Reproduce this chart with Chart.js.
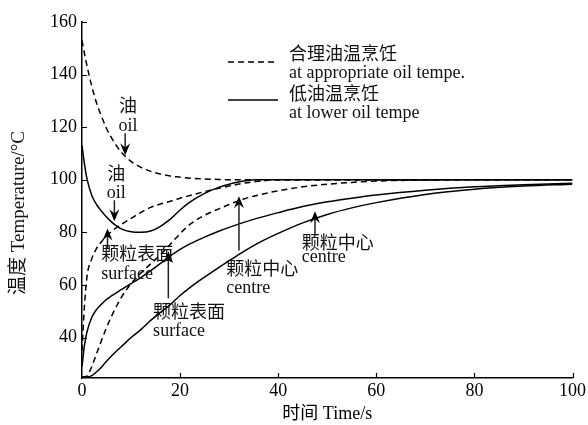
<!DOCTYPE html>
<html>
<head>
<meta charset="utf-8">
<script src="https://cdn.jsdelivr.net/npm/chart.js@4.4.0/dist/chart.umd.min.js"></script>
<style>
    html, body { margin: 0; padding: 0; background: #fff; }
    #wrap { width: 588px; height: 425px; }
</style>
</head>
<body>
<div id="wrap"><canvas id="chart" width="588" height="425"></canvas></div>
<script>
// Time points (s) and temperatures (°C)
const times = [0, 0.5, 1, 2, 3, 4, 5, 6, 7, 8, 10, 12, 14, 16, 18, 20, 22, 25, 28, 30, 33, 36, 40, 45, 50, 55, 60, 70, 80, 90, 100];

// appropriate oil temperature (dashed)
const oilAppropriate = [153, 148, 143.5, 135.5, 129, 124, 119.5, 116, 113, 110.5, 107, 104.7, 103.2, 102.2, 101.4, 101, 100.6, 100.3, 100.1, 100, 100, 100, 100, 100, 100, 100, 100, 100, 100, 100, 100];
const surfaceAppropriate = [35, 52, 63, 70, 74, 76.5, 78.6, 80.3, 81.8, 83, 85.3, 87.6, 89.5, 90.8, 91.8, 93, 94, 95.5, 96.8, 97.6, 98.7, 99.4, 100, 100, 100, 100, 100, 100, 100, 100, 100];
const centreAppropriate = [25, 25, 25.3, 29, 34, 39, 43.8, 48, 51.8, 55.2, 60.5, 64.5, 68, 71.5, 75.5, 79.5, 83, 86.5, 89, 90.6, 92.7, 94.2, 95.8, 97.3, 98.3, 99, 99.5, 99.9, 100, 100, 100];

// lower oil temperature (solid)
const oilLower = [113, 106, 100.5, 94, 90.5, 88, 85.8, 84, 82.5, 81.3, 80.2, 80, 80.5, 82.3, 85, 88.5, 91.5, 94.8, 97.2, 98.3, 99.5, 100, 100, 100, 100, 100, 100, 100, 100, 100, 100];
const surfaceLower = [29, 37, 42, 47.7, 50.7, 52.7, 54.5, 55.8, 57, 58.2, 60.5, 62.8, 65.4, 68.2, 71, 73.5, 75.6, 78.2, 80.5, 81.9, 83.8, 85.5, 87.5, 89.8, 91.6, 93, 94.2, 96, 97.3, 98.1, 98.7];
const centreLower = [25, 25, 25, 25.5, 27, 28.8, 31, 33, 34.8, 36.5, 40, 43, 46.5, 49.5, 52.5, 56, 59, 63, 66.8, 69.2, 72.8, 76, 79.6, 83.6, 86.8, 89.3, 91.3, 94.4, 96.4, 97.6, 98.3];

const xTicks = [0, 20, 40, 60, 80, 100];
const yTicks = [40, 60, 80, 100, 120, 140, 160];

const yTitle = '温度 Temperature/°C';
const xTitle = '时间 Time/s';

const legendLabels = [
    ['合理油温烹饪', 'at appropriate oil tempe.'],
    ['低油温烹饪', 'at lower oil tempe']
];

// callout texts and arrows, placed in data units (t, °C)
const noteTexts = [
    { text: '油', t: 9.4, T: 127.6, align: 'center' },
    { text: 'oil', t: 9.4, T: 120.4, align: 'center' },
    { text: '油', t: 7.0, T: 101.7, align: 'center' },
    { text: 'oil', t: 7.0, T: 94.9, align: 'center' },
    { text: '颗粒表面', t: 3.9, T: 71.2, align: 'left' },
    { text: 'surface', t: 3.9, T: 64.0, align: 'left' },
    { text: '颗粒表面', t: 14.5, T: 49.1, align: 'left' },
    { text: 'surface', t: 14.5, T: 42.3, align: 'left' },
    { text: '颗粒中心', t: 29.4, T: 65.5, align: 'left' },
    { text: 'centre', t: 29.4, T: 58.7, align: 'left' },
    { text: '颗粒中心', t: 44.8, T: 75.4, align: 'left' },
    { text: 'centre', t: 44.8, T: 70.5, align: 'left' }
];
const noteArrows = [
    { t: 8.8, from: 117.7, to: 109.3 },
    { t: 6.6, from: 92.2, to: 84.2 },
    { t: 5.2, from: 73.9, to: 81.5 },
    { t: 17.6, from: 54.9, to: 72.8 },
    { t: 32.0, from: 73.1, to: 93.7 },
    { t: 47.5, from: 78.9, to: 88.0 }
];

const FONT = "'Liberation Serif', 'Noto Sans CJK SC', serif";
const DASH = [6, 4];

function series(values, dashed) {
    return {
        data: times.map((t, i) => ({ x: t, y: values[i] })),
        borderColor: '#000',
        borderWidth: 1.5,
        borderDash: dashed ? DASH : [],
        pointRadius: 0,
        cubicInterpolationMode: 'monotone',
        fill: false
    };
}

function drawArrow(ctx, x, y0, y1) {
    const dir = y1 < y0 ? -1 : 1;
    const head = 12, half = 5;
    ctx.beginPath();
    ctx.moveTo(x, y0);
    ctx.lineTo(x, y1 - dir * head * 0.6);
    ctx.stroke();
    ctx.beginPath();
    ctx.moveTo(x, y1);
    ctx.lineTo(x - half, y1 - dir * head);
    ctx.lineTo(x, y1 - dir * head * 0.65);
    ctx.lineTo(x + half, y1 - dir * head);
    ctx.closePath();
    ctx.fill();
}

const decorPlugin = {
    id: 'decor',
    afterDatasetsDraw(chart) {
        const { ctx, chartArea: area, scales: { x, y } } = chart;
        ctx.save();

        // inward tick marks
        ctx.strokeStyle = '#000';
        ctx.lineWidth = 1.2;
        ctx.beginPath();
        yTicks.forEach(v => {
            const py = Math.round(y.getPixelForValue(v)) + 0.5;
            ctx.moveTo(area.left, py);
            ctx.lineTo(area.left + 5, py);
        });
        xTicks.slice(1).forEach(v => {
            const px = Math.round(x.getPixelForValue(v)) + 0.5;
            ctx.moveTo(px, area.bottom);
            ctx.lineTo(px, area.bottom - 5);
        });
        ctx.stroke();

        // arrows
        ctx.strokeStyle = '#222';
        ctx.fillStyle = '#000';
        ctx.lineWidth = 1.5;
        noteArrows.forEach(a => {
            drawArrow(ctx, x.getPixelForValue(a.t), y.getPixelForValue(a.from), y.getPixelForValue(a.to));
        });

        // callout text
        ctx.fillStyle = '#111';
        ctx.font = '18px ' + FONT;
        ctx.textBaseline = 'middle';
        noteTexts.forEach(n => {
            ctx.textAlign = n.align;
            ctx.fillText(n.text, x.getPixelForValue(n.t), y.getPixelForValue(n.T));
        });

        // legend
        const lx = area.left + 146, tx = area.left + 207;
        const rows = [{ line: 62, top: 55, dash: DASH }, { line: 100, top: 95, dash: [] }];
        rows.forEach((r, i) => {
            ctx.strokeStyle = '#000';
            ctx.lineWidth = 1.5;
            ctx.setLineDash(r.dash);
            ctx.beginPath();
            ctx.moveTo(lx, r.line);
            ctx.lineTo(lx + 50, r.line);
            ctx.stroke();
            ctx.setLineDash([]);
            ctx.textAlign = 'left';
            ctx.fillText(legendLabels[i][0], tx, r.top);
            ctx.fillText(legendLabels[i][1], tx, r.top + 18);
        });

        // y axis title (sits a bit below the plot centre in the original)
        ctx.save();
        ctx.translate(19, area.top + (area.bottom - area.top) / 2 + 13);
        ctx.rotate(-Math.PI / 2);
        ctx.textAlign = 'center';
        ctx.font = '19px ' + FONT;
        ctx.fillText(yTitle, 0, 0);
        ctx.restore();

        ctx.restore();
    }
};

Chart.defaults.font.family = FONT;
Chart.defaults.color = '#000';

new Chart(document.getElementById('chart'), {
    type: 'line',
    data: {
        datasets: [
            series(oilAppropriate, true),
            series(surfaceAppropriate, true),
            series(centreAppropriate, true),
            series(oilLower, false),
            series(surfaceLower, false),
            series(centreLower, false)
        ]
    },
    options: {
        responsive: false,
        animation: false,
        devicePixelRatio: 1,
        layout: { padding: { top: 22, right: 15, left: 0, bottom: 0 } },
        plugins: { legend: { display: false }, tooltip: { enabled: false } },
        scales: {
            x: {
                type: 'linear',
                min: 0,
                max: 100,
                afterBuildTicks: s => { s.ticks = xTicks.map(v => ({ value: v })); },
                afterFit: s => { s.height = 47; },
                grid: { display: false, drawTicks: false },
                border: { display: true, color: '#000', width: 1.5 },
                ticks: { font: { size: 18 }, padding: 2, maxRotation: 0 },
                title: { display: true, text: xTitle, font: { size: 18 }, padding: { top: 0, bottom: 0 } }
            },
            y: {
                type: 'linear',
                min: 24.6,
                max: 160,
                afterBuildTicks: s => { s.ticks = yTicks.map(v => ({ value: v })); },
                afterFit: s => { s.width = 82; },
                grid: { display: false, drawTicks: false },
                border: { display: true, color: '#000', width: 1.5 },
                ticks: { font: { size: 18 }, padding: 5 },
                title: { display: false }
            }
        }
    },
    plugins: [decorPlugin]
});
</script>
</body>
</html>
